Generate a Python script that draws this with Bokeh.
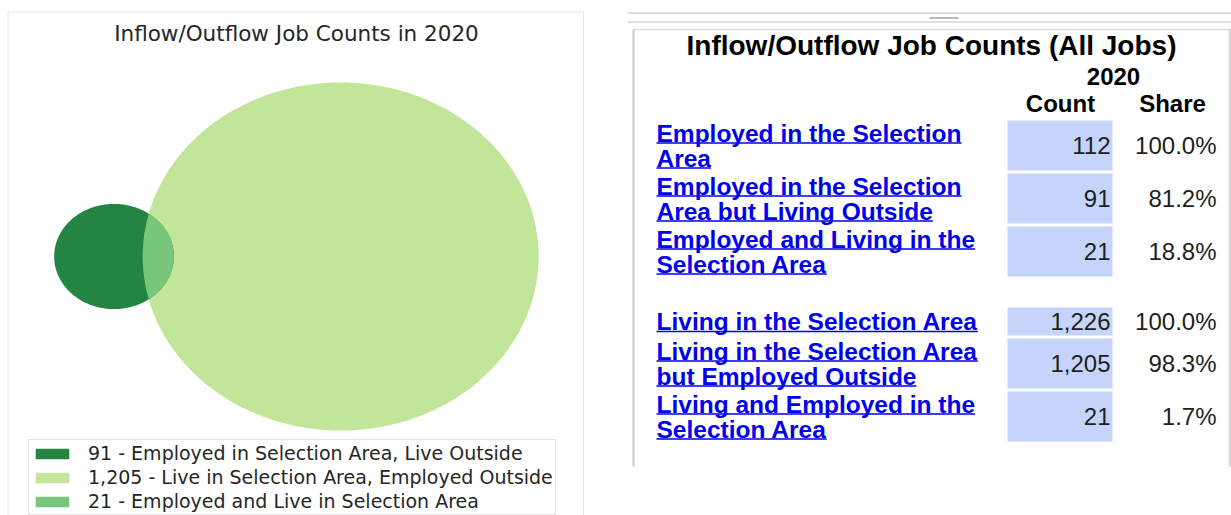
import math
import numpy as np
from bokeh.plotting import figure
from bokeh.models import Range1d, Legend, LegendItem
from bokeh.layouts import row
from bokeh.embed import file_html
from bokeh.resources import INLINE
from bokeh.core.properties import value

# ---------------- data ----------------
year = "2020"
employed_in_area = 112
employed_live_outside = 91
living_in_area = 1226
living_employed_outside = 1205
live_and_work = 21

venn_labels = [
    "91 - Employed in Selection Area, Live Outside",
    "1,205 - Live in Selection Area, Employed Outside",
    "21 - Employed and Live in Selection Area",
]
venn_colors = ["#238443", "#c2e699", "#78c679"]

table_labels = [
    ["Employed in the Selection", "Area"],
    ["Employed in the Selection", "Area but Living Outside"],
    ["Employed and Living in the", "Selection Area"],
    ["Living in the Selection Area"],
    ["Living in the Selection Area", "but Employed Outside"],
    ["Living and Employed in the", "Selection Area"],
]
table_counts = [112, 91, 21, 1226, 1205, 21]
table_shares = [100.0, 81.2, 18.8, 100.0, 98.3, 1.7]
table_group = [0, 0, 0, 1, 1, 1]

# ---------------- Venn geometry (areas proportional to counts) ----------------
rA = math.sqrt(employed_in_area / math.pi)
rB = math.sqrt(living_in_area / math.pi)


def lens_area(d, r1, r2):
    if d >= r1 + r2:
        return 0.0
    if d <= abs(r1 - r2):
        return math.pi * min(r1, r2) ** 2
    a1 = r1 ** 2 * math.acos((d * d + r1 * r1 - r2 * r2) / (2 * d * r1))
    a2 = r2 ** 2 * math.acos((d * d + r2 * r2 - r1 * r1) / (2 * d * r2))
    a3 = 0.5 * math.sqrt((-d + r1 + r2) * (d + r1 - r2) * (d - r1 + r2) * (d + r1 + r2))
    return a1 + a2 - a3


lo, hi = abs(rB - rA) + 1e-9, rA + rB - 1e-9
for _ in range(200):
    mid = 0.5 * (lo + hi)
    if lens_area(mid, rA, rB) > live_and_work:
        lo = mid
    else:
        hi = mid
dist = 0.5 * (lo + hi)

cxA, cxB = 0.0, dist
th = np.linspace(0, 2 * np.pi, 400)
circA_x = cxA + rA * np.cos(th)
circA_y = rA * np.sin(th)
circB_x = cxB + rB * np.cos(th)
circB_y = rB * np.sin(th)

a = (dist ** 2 + rA ** 2 - rB ** 2) / (2 * dist)
h = math.sqrt(max(rA ** 2 - a ** 2, 0))
phiA = math.atan2(h, a)
beta = math.atan2(h, dist - a)
tA = np.linspace(-phiA, phiA, 120)
tB = np.linspace(math.pi - beta, math.pi + beta, 120)
lens_x = np.concatenate([cxA + rA * np.cos(tA), cxB + rB * np.cos(tB)])
lens_y = np.concatenate([rA * np.sin(tA), rB * np.sin(tB)])

# ---------------- left figure (Venn) ----------------
LW, LH = 616, 515
PAGE = 0
sx = 198.0 / rB  # px per unit horizontally
sy = 174.0 / rB  # px per unit vertically
centerA_px = (113.5 - PAGE, 256 - PAGE)
x0 = cxA - centerA_px[0] / sx
y1 = centerA_px[1] / sy
xr = Range1d(x0, x0 + LW / sx)
yr = Range1d(y1 - LH / sy, y1)


def px2x(px):
    return x0 + (px - PAGE) / sx


def py2y(py):
    return y1 - (py - PAGE) / sy


p1 = figure(width=LW, height=LH, x_range=xr, y_range=yr, output_backend="svg",
            toolbar_location=None, x_axis_location=None, y_axis_location=None,
            min_border=0, outline_line_color=None)
p1.grid.visible = False
p1.background_fill_color = "white"
p1.border_fill_color = "white"

# faint panel frame
p1.quad(left=[px2x(7.5)], right=[px2x(583)], top=[py2y(11.5)], bottom=[py2y(540)],
        fill_alpha=0, line_color="#e6e6e6", line_width=1)

rB_r = p1.patch(circB_x, circB_y, fill_color=venn_colors[1], line_color=None)
rA_r = p1.patch(circA_x, circA_y, fill_color=venn_colors[0], line_color=None)
rL_r = p1.patch(lens_x, lens_y, fill_color=venn_colors[2], line_color=None)

p1.text(x=[px2x(296)], y=[py2y(33)], text=[f"Inflow/Outflow Job Counts in {year}"],
        text_font=value("DejaVu Sans"), text_font_size="21.5px", text_color="#262626",
        text_align="center", text_baseline="middle")

legend = Legend(items=[
    LegendItem(label=venn_labels[0], renderers=[rA_r]),
    LegendItem(label=venn_labels[1], renderers=[rB_r]),
    LegendItem(label=venn_labels[2], renderers=[rL_r]),
], location=(28 - PAGE, 0))
legend.label_text_font = "DejaVu Sans"
legend.label_text_font_size = "19px"
legend.label_text_color = "#262626"
legend.glyph_width = 42
legend.glyph_height = 13
legend.label_standoff = 15
legend.padding = 2
legend.spacing = 2
legend.margin = 0
legend.label_height = 20
legend.border_line_color = "#cccccc"
legend.border_line_width = 1
legend.background_fill_alpha = 1
p1.add_layout(legend)

# ---------------- right figure (table) ----------------
RW, RH = 615, 515
RX0 = LW + PAGE
p2 = figure(width=RW, height=RH, x_range=Range1d(RX0, RX0 + RW), y_range=Range1d(PAGE + RH, PAGE),
            output_backend="svg", toolbar_location=None, x_axis_location=None,
            y_axis_location=None, min_border=0, outline_line_color=None)
p2.grid.visible = False
p2.background_fill_color = "white"
p2.border_fill_color = "white"

# splitter bar and panel frame
p2.segment(x0=[627, 627], y0=[12.5, 21.5], x1=[RX0 + RW, RX0 + RW], y1=[12.5, 21.5],
           line_color="#d4d4d4", line_width=1.5)
p2.segment(x0=[929], y0=[17.5], x1=[958], y1=[17.5], line_color="#b8b8b8", line_width=2)
p2.segment(x0=[632], y0=[29], x1=[RX0 + RW], y1=[29], line_color="#dedede", line_width=1.5)
p2.segment(x0=[633, 1229.5], y0=[29, 29], x1=[633, 1229.5], y1=[466, 466],
           line_color="#d6d6d6", line_width=2.5)

FONT = "Liberation Sans"
p2.text(x=[931], y=[45], text=["Inflow/Outflow Job Counts (All Jobs)"],
        text_font=value(FONT), text_font_style="bold", text_font_size="28px",
        text_color="black", text_align="center", text_baseline="middle")
p2.text(x=[1113], y=[76], text=[year], text_font=value(FONT), text_font_style="bold",
        text_font_size="24px", text_color="black", text_align="center", text_baseline="middle")
p2.text(x=[1060, 1172], y=[103, 103], text=["Count", "Share"], text_font=value(FONT),
        text_font_style="bold", text_font_size="24px", text_color="black",
        text_align="center", text_baseline="middle")

# Arial/Liberation Sans Bold advance widths (per 1000 em) for underline lengths
BOLD_W = {" ": 278, "A": 722, "E": 667, "L": 611, "O": 778, "S": 667, "a": 556, "b": 611,
          "c": 556, "d": 611, "e": 556, "g": 611, "h": 611, "i": 278, "l": 278, "m": 889,
          "n": 611, "o": 611, "p": 611, "r": 389, "s": 556, "t": 333, "u": 611, "v": 556,
          "y": 556}
LINK_FS = 24.5
LINE_PITCH = 25
LINK_X = 656
CELL_L, CELL_R = 1007, 1112
SHARE_R = 1216

link_x, link_y, link_t = [], [], []
ul_x0, ul_x1, ul_y = [], [], []
cell_top, cell_bot, num_y = [], [], []
top = 120
prev_group = table_group[0]
for i, lines in enumerate(table_labels):
    if table_group[i] != prev_group:
        top += 28
        prev_group = table_group[i]
    n = len(lines)
    hcell = 22 * n + 6
    center = top + hcell / 2
    cell_top.append(top)
    cell_bot.append(top + hcell)
    num_y.append(center)
    for j, ln in enumerate(lines):
        yy = center + (j - (n - 1) / 2) * LINE_PITCH
        link_x.append(LINK_X)
        link_y.append(yy)
        link_t.append(ln)
        w = sum(BOLD_W.get(c, 600) for c in ln) / 1000 * LINK_FS
        ul_x0.append(LINK_X)
        ul_x1.append(LINK_X + w)
        ul_y.append(yy + 10)
    top += hcell + 3

p2.quad(left=CELL_L, right=CELL_R, top=cell_top, bottom=cell_bot,
        fill_color="#c6d4fb", line_color=None)
p2.text(x=link_x, y=link_y, text=link_t, text_font=value(FONT), text_font_style="bold",
        text_font_size=f"{LINK_FS}px", text_color="#0000ee", text_align="left",
        text_baseline="middle")
p2.segment(x0=ul_x0, y0=ul_y, x1=ul_x1, y1=ul_y, line_color="#0000ee", line_width=1.6)
p2.text(x=[CELL_R - 2] * len(table_counts), y=num_y, text=[f"{c:,}" for c in table_counts],
        text_font=value(FONT), text_font_size="24px", text_color="#1e1e1e",
        text_align="right", text_baseline="middle")
p2.text(x=[SHARE_R] * len(table_shares), y=num_y, text=[f"{s:.1f}%" for s in table_shares],
        text_font=value(FONT), text_font_size="24px", text_color="#1e1e1e",
        text_align="right", text_baseline="middle")

layout = row(p1, p2)
open("out.html", "w").write(file_html(layout, INLINE))
